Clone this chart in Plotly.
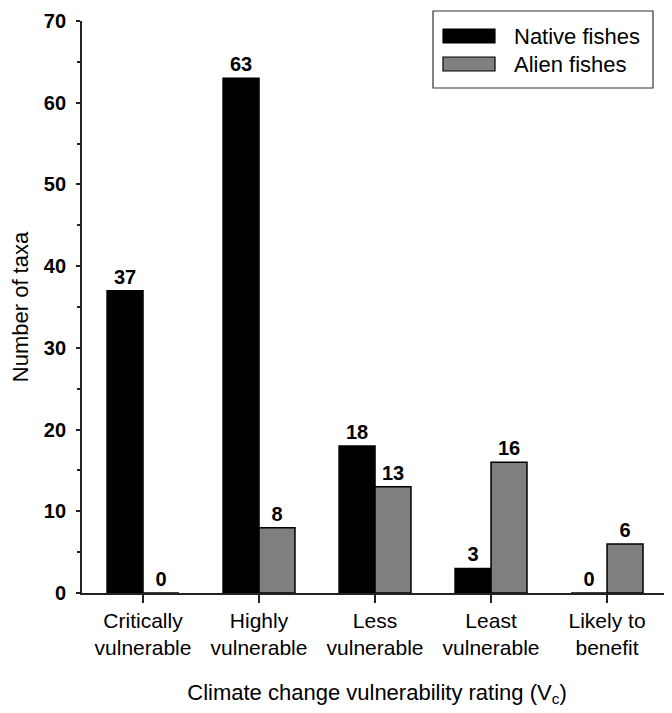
import plotly.graph_objects as go

categories = ["Critically<br>vulnerable", "Highly<br>vulnerable", "Less<br>vulnerable",
              "Least<br>vulnerable", "Likely to<br>benefit"]
series_names = ["Native fishes", "Alien fishes"]
native = [37, 63, 18, 3, 0]
alien = [0, 8, 13, 16, 6]
y_ticks = [0, 10, 20, 30, 40, 50, 60, 70]

FONT = "Liberation Sans, Arial, sans-serif"
COLORS = ["#000000", "#7f7f7f"]

# the page body has an 8px margin; size the figure so it fills the 672x713 window
OFF = 8
W, H = 672 - OFF, 713 - OFF
L, R, T, B = 82 - OFF, 0, 21 - OFF, 120
PW, PH = W - L - R, H - T - B


def px(x):  # page pixel -> paper fraction
    return (x - OFF - L) / PW


def py(y):
    return (H - B - (y - OFF)) / PH


fig = go.Figure()
for name, vals, col in zip(series_names, [native, alien], COLORS):
    fig.add_trace(go.Bar(
        x=categories, y=vals, name=name,
        marker=dict(color=col, line=dict(color="#000000", width=1.5)),
        text=[str(v) for v in vals], textposition="outside",
        textfont=dict(family=FONT, size=20, color="#000000", weight="bold"),
        cliponaxis=False, showlegend=False,
    ))

# custom legend (box, wide swatches, labels)
shapes = [dict(type="rect", xref="paper", yref="paper",
               x0=px(433), x1=px(653), y0=py(88), y1=py(11),
               line=dict(color="#333333", width=1.2), fillcolor="white", layer="above")]
annotations = []
for i, (name, col) in enumerate(zip(series_names, COLORS)):
    cy = 36 + i * 28
    shapes.append(dict(type="rect", xref="paper", yref="paper",
                       x0=px(443), x1=px(495), y0=py(cy + 7), y1=py(cy - 7),
                       line=dict(color="#000000", width=1.2), fillcolor=col, layer="above"))
    annotations.append(dict(xref="paper", yref="paper", x=px(512), y=py(cy),
                            xanchor="left", yanchor="middle", showarrow=False,
                            text=name, font=dict(family=FONT, size=22, color="#000000")))

fig.update_layout(
    width=W, height=H,
    margin=dict(l=L, r=R, t=T, b=B),
    plot_bgcolor="white", paper_bgcolor="white",
    barmode="group", bargap=0.38, bargroupgap=0,
    font=dict(family=FONT, color="#000000"),
    showlegend=False,
    shapes=shapes, annotations=annotations,
)
fig.update_xaxes(
    range=[-0.526, 4.56], automargin=False,
    showline=True, linecolor="#222222", linewidth=1.8,
    ticks="outside", ticklen=8, tickwidth=1.5, tickcolor="#222222",
    tickfont=dict(family=FONT, size=21, color="#000000"),
    title=dict(text="Climate change vulnerability rating (V<sub>c</sub>)",
               font=dict(family=FONT, size=22, color="#000000"), standoff=26),
    showgrid=False, zeroline=False,
)
fig.update_yaxes(
    range=[0, 70], tickvals=y_ticks, automargin=False,
    showline=True, linecolor="#222222", linewidth=1.8,
    ticks="outside", ticklen=4, tickwidth=1.5, tickcolor="#222222",
    ticklabelstandoff=6, ticklabeloverflow="allow",
    minor=dict(dtick=5, ticks="outside", ticklen=3, tickcolor="#222222"),
    tickfont=dict(family=FONT, size=20, color="#000000", weight="bold"),
    title=dict(text="Number of taxa", font=dict(family=FONT, size=22, color="#000000"),
               standoff=20),
    showgrid=False, zeroline=False,
)

fig.write_html("out.html")
